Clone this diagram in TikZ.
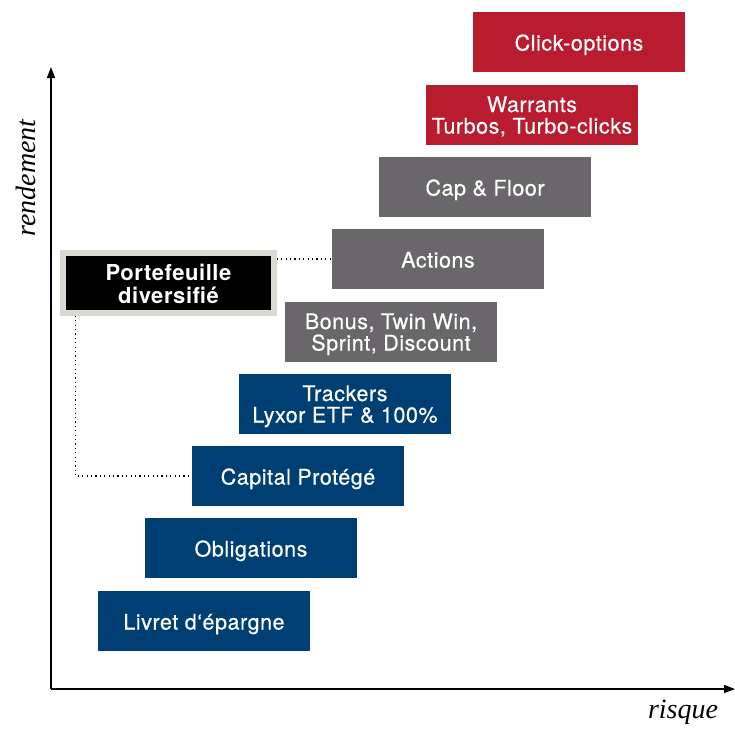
\documentclass[tikz,border=0pt]{standalone}
\usepackage{fontspec}
\setmainfont{TeX Gyre Heros}
\newfontfamily\boxfont{TeX Gyre Heros}[LetterSpace=2.5, UprightFeatures={FakeBold=0.5}]
\newfontfamily\axisfont{Liberation Serif}
\usetikzlibrary{arrows.meta}
\definecolor{prodred}{HTML}{B81C2E}
\definecolor{prodgrey}{HTML}{69676A}
\definecolor{prodblue}{HTML}{003F73}
\definecolor{frame}{HTML}{DCD8D4}
\begin{document}
\begin{tikzpicture}[x=1pt,y=-1pt,
  prod/.style={rectangle, minimum width=212pt, minimum height=60pt, inner sep=0pt,
    text=white, align=center, font=\boxfont\fontsize{21.5}{21.5}\selectfont,
    text height=17pt, text depth=0pt},
  twoline/.style={text height=37pt, text depth=0pt},
  red/.style={prod, fill=prodred},
  grey/.style={prod, fill=prodgrey},
  blue/.style={prod, fill=prodblue},
  link/.style={line width=1.2pt, dash pattern=on 1.2pt off 3.2pt},
  axis/.style={line width=1.3pt, -{Triangle[length=11pt,width=8pt]}},
  axislabel/.style={font=\axisfont\itshape\fontsize{28}{30}\selectfont}]
\useasboundingbox (0,0) rectangle (735,728);

% axes
\coordinate (origin) at (51,689);
\coordinate (ytip) at (51,67);
\coordinate (xtip) at (735,689);
\draw[axis] (origin) -- (ytip);
\draw[axis] (origin) -- (xtip);
\node[axislabel, rotate=90, anchor=base] (ylab) at (35,178) {rendement};
\node[axislabel, anchor=base] (xlab) at (683,718) {risque};

% products, from low to high risk
\node[red]           (click)   at (579,42)  {Click-options};
\node[red, twoline]  (warr)    at (532,115) {Warrants\\Turbos, Turbo-clicks};
\node[grey]          (cap)     at (485,187) {Cap \& Floor};
\node[grey]          (act)     at (438,259) {Actions};
\node[grey, twoline] (bonus)   at (391,332) {Bonus, Twin Win,\\Sprint, Discount};
\node[blue, twoline] (track)   at (345,404) {Trackers\\Lyxor ETF \& 100\%};
\node[blue]          (capprot) at (298,476) {Capital Protégé};
\node[blue]          (oblig)   at (251,548) {Obligations};
\node[blue]          (livret)  at (204,621) {Livret d‘épargne};

% diversified portfolio
\node[rectangle, fill=black, draw=frame, line width=5.5pt,
  minimum width=211pt, minimum height=60pt, inner sep=0pt,
  text=white, align=center, font=\boxfont\bfseries\fontsize{22}{23}\selectfont,
  text height=40pt, text depth=0pt]
  (port) at (168.5,283) {Portefeuille\\diversifié};

% dotted links
\draw[link] (port.east |- act.west) -- (act.west);
\coordinate (corner) at ([xshift=15pt]port.south west |- capprot.west);
\draw[link] ([xshift=15pt]port.south west) -- (corner) -- (capprot.west);
\end{tikzpicture}
\end{document}
